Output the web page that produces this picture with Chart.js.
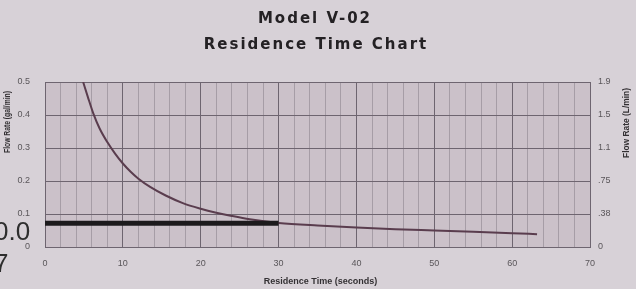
<!DOCTYPE html>
<html>
<head>
<meta charset="utf-8">
<script src="https://cdn.jsdelivr.net/npm/chart.js@4/dist/chart.umd.min.js"></script>
<style>
  html, body { margin: 0; padding: 0; background: #d7d1d7; }
  #wrap { position: relative; width: 636px; height: 289px; overflow: hidden; }
  canvas { position: absolute; left: 0; top: 0; }
  .frag { position: absolute; font-family: "Liberation Sans", sans-serif; color: #2e2e2e; font-size: 26px; line-height: 1; }
</style>
</head>
<body>
<div id="wrap">
  <canvas id="c" width="636" height="289"></canvas>
  <span class="frag" style="left:-6px; top:218px;">0.0</span>
  <span class="frag" style="left:-6px; top:250px;">7</span>
</div>
<script>
// ---- data ----
const chartTitle = ['Model V-02', 'Residence Time Chart'];
const xAxisTitle = 'Residence Time (seconds)';
const leftAxisTitle = 'Flow Rate (gal/min)';
const rightAxisTitle = 'Flow Rate (L/min)';

const timeSec  = [4.9, 5.5, 6.2, 7.0, 8.0, 9.0, 10.0, 11.0, 12.0, 13.5, 15.5, 17.7, 20, 22, 24, 26.3, 30, 35, 40, 45, 50, 55, 60, 63.2];
const flowRate = [0.5, 0.455, 0.405, 0.36, 0.318, 0.283, 0.253, 0.228, 0.207, 0.182, 0.156, 0.133, 0.116, 0.104, 0.094, 0.084, 0.073, 0.065, 0.059, 0.054, 0.050, 0.046, 0.042, 0.039];

const markerTimes = [0, 30];
const markerLevel = [0.072, 0.072];

const xTickLabels     = ['0', '10', '20', '30', '40', '50', '60', '70'];
const yLeftTickLabels = ['0', '0.1', '0.2', '0.3', '0.4', '0.5'];
const yRightTickLabels = ['0', '.38', '.75', '1.1', '1.5', '1.9'];

// ---- styling ----
const MAJOR = '#6e6570';
const MINOR = '#a69da6';
const TICK_COLOR = '#5a565a';

const curvePts = timeSec.map((t, i) => ({ x: t, y: flowRate[i] }));
const markerPts = markerTimes.map((t, i) => ({ x: t, y: markerLevel[i] }));

const decor = {
  id: 'decor',
  beforeDraw(chart) {
    const { ctx, chartArea: a } = chart;
    ctx.save();
    ctx.fillStyle = '#d7d1d7';
    ctx.fillRect(0, 0, chart.width, chart.height);
    ctx.fillStyle = '#cbc1c9';
    ctx.fillRect(a.left, a.top, a.right - a.left, a.bottom - a.top);
    ctx.restore();
  },
  afterDraw(chart) {
    const { ctx, chartArea: a } = chart;
    ctx.save();
    // title
    ctx.fillStyle = '#242124';
    ctx.font = 'bold 15px "DejaVu Sans", sans-serif';
    ctx.textAlign = 'center';
    ctx.textBaseline = 'alphabetic';
    try { ctx.letterSpacing = '2px'; } catch (e) {}
    ctx.fillText(chartTitle[0], 315, 23);
    ctx.fillText(chartTitle[1], 316, 49);
    try { ctx.letterSpacing = '0px'; } catch (e) {}
    // axis titles
    ctx.fillStyle = '#333033';
    ctx.font = 'bold 9px "Liberation Sans", sans-serif';
    ctx.textBaseline = 'middle';
    ctx.fillText(xAxisTitle, (a.left + a.right) / 2 + 3, 282, 126);
    ctx.save();
    ctx.translate(8, 122);
    ctx.rotate(-Math.PI / 2);
    ctx.fillText(leftAxisTitle, 0, 0, 62);
    ctx.restore();
    ctx.save();
    ctx.translate(627, 123);
    ctx.rotate(-Math.PI / 2);
    ctx.fillText(rightAxisTitle, 0, 0, 70);
    ctx.restore();
    ctx.restore();
  }
};

new Chart(document.getElementById('c'), {
  type: 'scatter',
  data: {
    datasets: [
      {
        data: curvePts,
        showLine: true,
        borderColor: '#5a3d4e',
        borderWidth: 2,
        pointRadius: 0,
        cubicInterpolationMode: 'monotone',
        fill: false,
        order: 2
      },
      {
        data: markerPts,
        showLine: true,
        borderColor: '#1c1a1c',
        borderWidth: 5,
        borderCapStyle: 'butt',
        pointRadius: 0,
        fill: false,
        order: 1
      }
    ]
  },
  plugins: [decor],
  options: {
    responsive: false,
    animation: false,
    events: [],
    layout: { padding: { top: 82, left: 0, right: 0, bottom: 0 } },
    plugins: { legend: { display: false }, title: { display: false }, tooltip: { enabled: false } },
    scales: {
      x: {
        type: 'linear', min: 0, max: 70,
        afterFit(s) { s.height = 42; },
        ticks: {
          stepSize: 2, autoSkip: false, maxRotation: 0, padding: 11,
          color: TICK_COLOR, font: { family: 'Liberation Sans', size: 9 },
          callback: (v) => (v % 10 === 0 ? xTickLabels[v / 10] : '')
        },
        grid: {
          drawTicks: false,
          color: (c) => (c.tick && Math.round(c.tick.value) % 10 === 0 ? MAJOR : MINOR),
          lineWidth: 1
        },
        border: { display: true, color: MAJOR, width: 1 }
      },
      y: {
        type: 'linear', position: 'left', min: 0, max: 0.5,
        afterFit(s) { s.width = 45; },
        ticks: {
          stepSize: 0.1, padding: 15,
          color: TICK_COLOR, font: { family: 'Liberation Sans', size: 9 },
          callback: (v, i) => yLeftTickLabels[i]
        },
        grid: { drawTicks: false, color: MAJOR, lineWidth: 1 },
        border: { display: true, color: MAJOR, width: 1 }
      },
      y2: {
        type: 'linear', position: 'right', min: 0, max: 0.5,
        afterFit(s) { s.width = 46; },
        ticks: {
          stepSize: 0.1, padding: 8,
          color: TICK_COLOR, font: { family: 'Liberation Sans', size: 9 },
          callback: (v, i) => yRightTickLabels[i]
        },
        grid: { display: false, drawTicks: false },
        border: { display: true, color: MAJOR, width: 1 }
      }
    }
  }
});
</script>
</body>
</html>
